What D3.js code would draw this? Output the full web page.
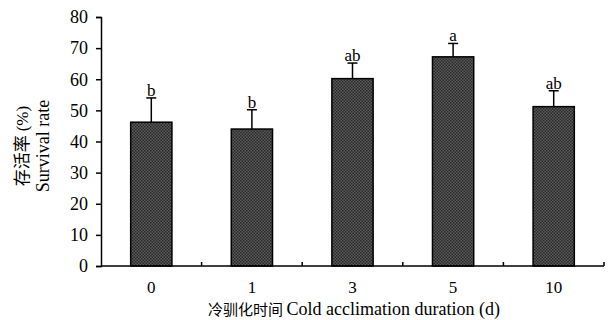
<!DOCTYPE html>
<html>
<head>
<meta charset="utf-8">
<script src="https://cdn.jsdelivr.net/npm/d3@7"></script>
<style>
  body { margin: 0; background: #fff; }
  text { font-family: "Liberation Serif", "Times New Roman", serif; fill: #000; }
  .cjk { font-family: "Noto Sans CJK SC", sans-serif; }
</style>
</head>
<body>
<svg id="chart" width="610" height="320"></svg>
<script>
// data
const categories = ['0', '1', '3', '5', '10'];
const survival = [46.2, 44.0, 60.2, 67.2, 51.2];
const errors = [7.8, 6.2, 5.0, 4.3, 5.1];
const letters = ['b', 'b', 'ab', 'a', 'ab'];
const yTicks = [0, 10, 20, 30, 40, 50, 60, 70, 80];

const svg = d3.select('#chart');
const margin = { top: 17, right: 6, bottom: 54, left: 101 };

// checkered fill like the original
const defs = svg.append('defs');
const pat = defs.append('pattern')
  .attr('id', 'checker')
  .attr('width', 3).attr('height', 3)
  .attr('patternUnits', 'userSpaceOnUse');
pat.append('rect').attr('width', 3).attr('height', 3).attr('fill', '#5a5a5a');
pat.append('rect').attr('width', 1.5).attr('height', 1.5).attr('fill', '#2a2a2a');
pat.append('rect').attr('x', 1.5).attr('y', 1.5).attr('width', 1.5).attr('height', 1.5).attr('fill', '#2a2a2a');

const x = d3.scaleBand()
  .domain(categories)
  .range([margin.left, 604])
  .paddingInner(0.59)
  .paddingOuter(0.295);

const y = d3.scaleLinear()
  .domain([0, 80])
  .range([266, margin.top]);

// error bars (drawn first so the bar covers the lower half)
const eb = svg.append('g');
categories.forEach((c, i) => {
  const cx = x(c) + x.bandwidth() / 2;
  eb.append('line')
    .attr('x1', cx).attr('x2', cx)
    .attr('y1', y(survival[i])).attr('y2', y(survival[i] + errors[i]))
    .attr('stroke', '#000').attr('stroke-width', 1.5);
  eb.append('line')
    .attr('x1', cx - 5).attr('x2', cx + 5)
    .attr('y1', y(survival[i] + errors[i])).attr('y2', y(survival[i] + errors[i]))
    .attr('stroke', '#000').attr('stroke-width', 1.5);
  eb.append('text')
    .attr('x', cx)
    .attr('y', y(survival[i] + errors[i]) - 2)
    .attr('text-anchor', 'middle')
    .attr('font-size', 17)
    .text(letters[i]);
});

svg.selectAll('.bar')
  .data(survival)
  .enter().append('rect')
  .attr('class', 'bar')
  .attr('x', (d, i) => x(categories[i]))
  .attr('y', d => y(d))
  .attr('width', x.bandwidth())
  .attr('height', d => y(0) - y(d))
  .attr('fill', 'url(#checker)')
  .attr('stroke', '#000')
  .attr('stroke-width', 1.5);

// y axis
const yAxis = svg.append('g')
  .attr('transform', `translate(${margin.left},0)`)
  .call(d3.axisLeft(y).tickValues(yTicks).tickSize(5).tickSizeOuter(5).tickPadding(8));
yAxis.select('.domain').attr('stroke-width', 1.5);
yAxis.selectAll('.tick line').attr('stroke-width', 1.5);
yAxis.selectAll('text').attr('font-size', 18).attr('font-family', '"Liberation Serif", serif');

// x axis: ticks between bars, pointing up
const xAxisG = svg.append('g').attr('transform', `translate(0,${y(0)})`);
xAxisG.append('line')
  .attr('x1', margin.left).attr('x2', 604)
  .attr('stroke', '#000').attr('stroke-width', 1.5);
const step = x.step();
categories.forEach((c, i) => {
  const bx = x(c) + x.bandwidth() / 2 + step / 2;
  xAxisG.append('line')
    .attr('x1', bx).attr('x2', bx)
    .attr('y1', 0).attr('y2', -4)
    .attr('stroke', '#000').attr('stroke-width', 1.5);
  xAxisG.append('text')
    .attr('x', x(c) + x.bandwidth() / 2)
    .attr('y', 27)
    .attr('text-anchor', 'middle')
    .attr('font-size', 17)
    .text(c);
});

// axis titles
const xt = svg.append('text')
  .attr('x', 354)
  .attr('y', 315)
  .attr('text-anchor', 'middle')
  .attr('font-size', 18);
xt.append('tspan').attr('class', 'cjk').attr('font-size', 15).text('冷驯化时间 ');
xt.append('tspan').text('Cold acclimation duration (d)');

const yt = svg.append('g').attr('transform', 'translate(0,146) rotate(-90)');
const yt1 = yt.append('text')
  .attr('x', 0).attr('y', 28)
  .attr('text-anchor', 'middle')
  .attr('font-size', 17);
yt1.append('tspan').attr('class', 'cjk').attr('font-size', 17).text('存活率 ');
yt1.append('tspan').text('(%)');
yt.append('text')
  .attr('x', 0).attr('y', 49)
  .attr('text-anchor', 'middle')
  .attr('font-size', 18)
  .text('Survival rate');
</script>
</body>
</html>
